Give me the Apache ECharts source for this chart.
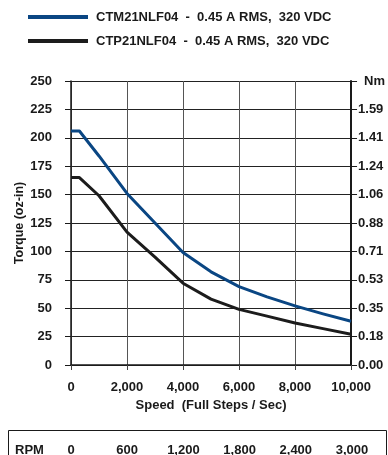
<!DOCTYPE html>
<html>
<head>
<meta charset="utf-8">
<script src="https://cdn.jsdelivr.net/npm/echarts@6/dist/echarts.min.js"></script>
<style>
html,body{margin:0;padding:0;background:#fff;}
#c{width:388px;height:455px;}
</style>
</head>
<body>
<div id="c"></div>
<script>
const seriesNames = ['CTM21NLF04  -  0.45 A RMS,  320 VDC', 'CTP21NLF04  -  0.45 A RMS,  320 VDC'];
const speeds = [0, 300, 1000, 2000, 3000, 4000, 5000, 6000, 7000, 8000, 9000, 10000];
const ctmTorque = [206, 206, 184, 151, 125, 99, 82, 69, 60, 52, 45, 38.5];
const ctpTorque = [165, 165, 149, 117, 95, 72, 58, 49, 43, 37, 32, 27];
const nmLabels = ['0.00', '0.18', '0.35', '0.53', '0.71', '0.88', '1.06', '1.24', '1.41', '1.59', 'Nm'];
const rpmTicks = [0, 600, 1200, 1800, 2400, 3000];

const FONT = '"Liberation Sans", Arial, sans-serif';
const FS = 13;
const lbl = {fontFamily: FONT, fontWeight: 'bold', fontSize: FS, color: '#1a1a1a'};
const fmtNum = v => v.toLocaleString('en-US');

const chart = echarts.init(document.getElementById('c'), null, {renderer: 'canvas'});
chart.setOption({
  animation: false,
  backgroundColor: '#fff',
  legend: {
    orient: 'vertical', left: 23, top: 5, itemWidth: 60, itemHeight: 4, itemGap: 10,
    icon: 'rect', selectedMode: false,
    textStyle: Object.assign({}, lbl, {lineHeight: 14, padding: [0, 0, 0, 3]}),
    data: seriesNames
  },
  grid: [
    {left: 71, right: 36, top: 81, bottom: 90},
    {left: 71, right: 36, top: 444, height: 1}
  ],
  xAxis: [{
    type: 'value', min: 0, max: 10000, interval: 2000, gridIndex: 0,
    name: 'Speed  (Full Steps / Sec)', nameLocation: 'middle', nameGap: 34,
    nameMoveOverlap: false,
    nameTextStyle: lbl,
    axisLine: {show: true, lineStyle: {color: '#1a1a1a', width: 1.5}},
    axisTick: {show: true, inside: false, length: 5, lineStyle: {color: '#444'}},
    axisLabel: Object.assign({}, lbl, {margin: 16, formatter: fmtNum}),
    splitLine: {show: true, lineStyle: {color: '#555', width: 1}}
  }, {
    type: 'value', min: 0, max: 3000, interval: 600, gridIndex: 1,
    axisLine: {show: false}, axisTick: {show: false}, splitLine: {show: false},
    axisLabel: Object.assign({}, lbl, {margin: 0, formatter: v => rpmTicks.indexOf(v) >= 0 ? fmtNum(v) : ''})
  }],
  yAxis: [{
    type: 'value', min: 0, max: 250, interval: 25, gridIndex: 0,
    name: 'Torque (oz-in)', nameLocation: 'middle', nameGap: 45, nameRotate: 90,
    nameMoveOverlap: false,
    nameTextStyle: Object.assign({}, lbl, {fontSize: 12.5}),
    axisLine: {show: true, lineStyle: {color: '#1a1a1a', width: 1.5}},
    axisTick: {show: true, inside: false, length: 6, lineStyle: {color: '#1a1a1a'}},
    axisLabel: Object.assign({}, lbl, {margin: 19}),
    splitLine: {show: true, lineStyle: {color: '#222', width: 1}}
  }, {
    type: 'value', min: 0, max: 250, interval: 25, gridIndex: 0, position: 'right',
    axisLine: {show: true, lineStyle: {color: '#1a1a1a', width: 2}},
    axisTick: {show: true, inside: false, length: 6, lineStyle: {color: '#1a1a1a'}},
    axisLabel: Object.assign({}, lbl, {
      margin: 7,
      formatter: v => { const t = nmLabels[Math.round(v / 25)]; return t === 'Nm' ? '{n|' + t + '}' : t; },
      rich: {n: Object.assign({}, lbl, {padding: [0, 0, 0, 6]})}
    }),
    splitLine: {show: false}
  }, {
    type: 'value', gridIndex: 1, show: false
  }],
  graphic: [
    {type: 'rect', shape: {x: 8.5, y: 430.5, width: 378, height: 40}, style: {fill: 'none', stroke: '#1a1a1a', lineWidth: 1}},
    {type: 'text', left: 15, top: 444, style: {text: 'RPM', font: 'bold ' + FS + 'px ' + FONT, fill: '#1a1a1a'}}
  ],
  series: [{
    name: seriesNames[0], type: 'line', xAxisIndex: 0, yAxisIndex: 0, showSymbol: false,
    color: '#0a4683', lineStyle: {width: 3, color: '#0a4683', join: 'round'},
    data: speeds.map((s, i) => [s, ctmTorque[i]])
  }, {
    name: seriesNames[1], type: 'line', xAxisIndex: 0, yAxisIndex: 0, showSymbol: false,
    color: '#1c1c1c', lineStyle: {width: 3, color: '#1c1c1c', join: 'round'},
    data: speeds.map((s, i) => [s, ctpTorque[i]])
  }]
});
</script>
</body>
</html>
